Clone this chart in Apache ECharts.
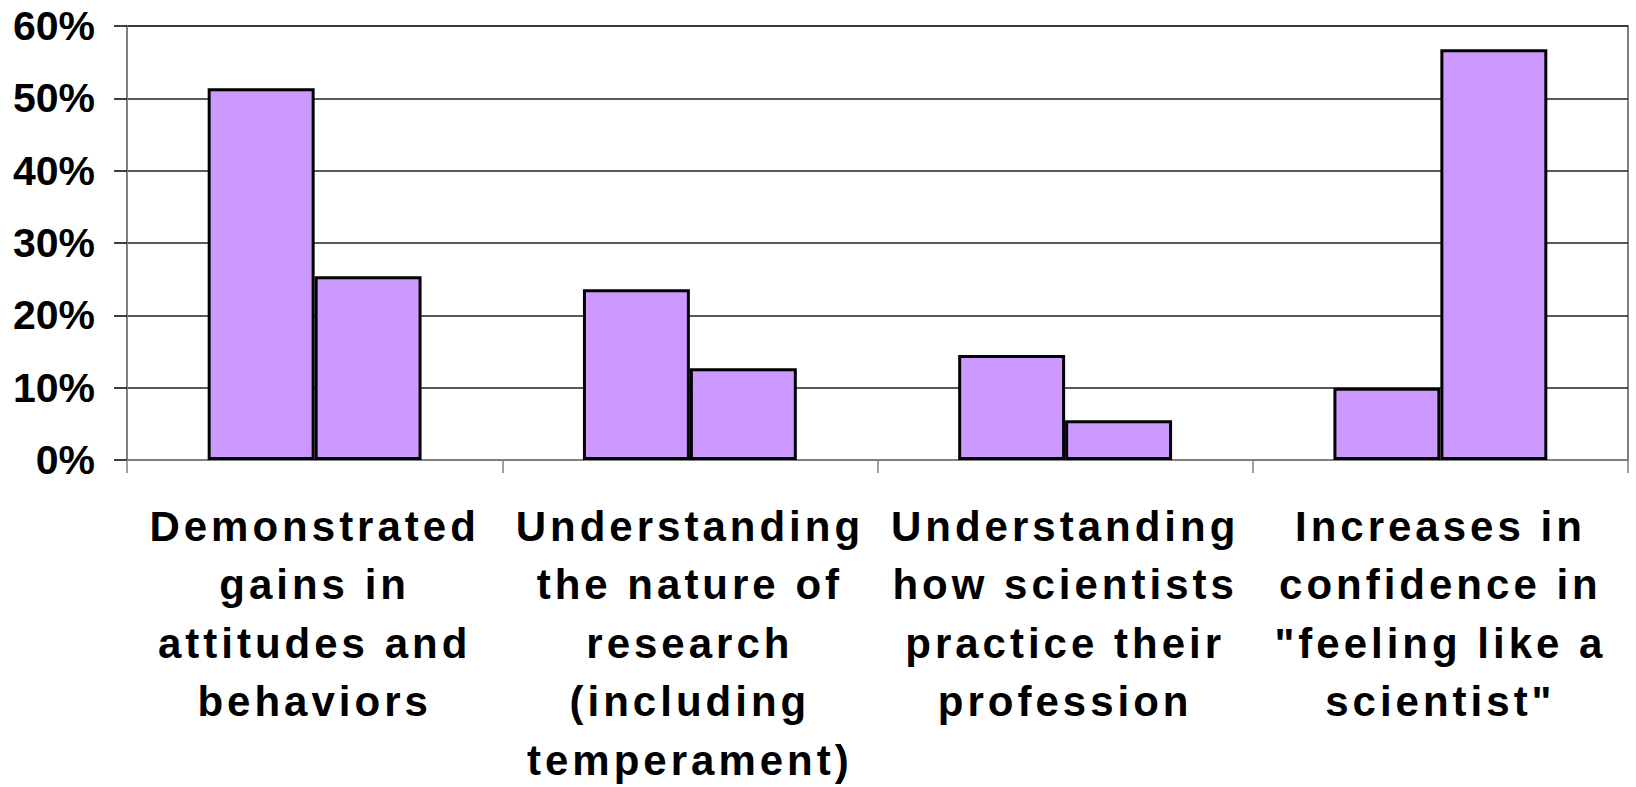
<!DOCTYPE html>
<html>
<head>
<meta charset="utf-8">
<script src="https://cdn.jsdelivr.net/npm/echarts@6/dist/echarts.min.js"></script>
<style>
  html, body { margin: 0; padding: 0; background: #fff; overflow: hidden; width: 1636px; height: 787px; }
  #chart { width: 1636px; height: 787px; overflow: hidden; }
  #chart svg { display: block; }
  /* category labels in the original are spaced out a bit */
  #chart text[text-anchor="middle"] { letter-spacing: 4px; }
</style>
</head>
<body>
<div id="chart"></div>
<script>
// categories on the x axis (line breaks as in the original)
const categories = [
  'Demonstrated\ngains in\nattitudes and\nbehaviors',
  'Understanding\nthe nature of\nresearch\n(including\ntemperament)',
  'Understanding\nhow scientists\npractice their\nprofession',
  'Increases in\nconfidence in\n"feeling like a\nscientist"'
]

// percent values
const series1Values = [51.4, 23.6, 14.5, 10.0]
const series2Values = [25.4, 12.7, 5.5, 56.8]

const yTicks = { min: 0, max: 60, interval: 10 }

const FONT = "'Liberation Sans', Arial, sans-serif"
const BAR_COLOR = '#CC99FF'
const AXIS_GREY = '#808080'

const chart = echarts.init(document.getElementById('chart'), null, { renderer: 'svg' })

const barStyle = {
  color: BAR_COLOR,
  borderColor: '#000',
  borderWidth: 3
}

chart.setOption({
  animation: false,
  grid: {
    left: 127,
    top: 26,
    width: 1501,
    height: 434,
    outerBoundsMode: 'none',
    show: true,
    backgroundColor: 'transparent',
    borderColor: AXIS_GREY,
    borderWidth: 2
  },
  xAxis: {
    type: 'category',
    data: categories,
    axisLine: { lineStyle: { color: AXIS_GREY, width: 2 } },
    axisTick: { show: true, length: 13, lineStyle: { color: AXIS_GREY, width: 1.5 } },
    axisLabel: {
      interval: 0,
      margin: 37,
      color: '#000',
      fontFamily: FONT,
      fontWeight: 'bold',
      fontSize: 42,
      lineHeight: 58.5,
      align: 'center'
    }
  },
  yAxis: {
    type: 'value',
    min: yTicks.min,
    max: yTicks.max,
    interval: yTicks.interval,
    axisLine: { show: true, lineStyle: { color: AXIS_GREY, width: 2 } },
    axisTick: { show: true, length: 13, lineStyle: { color: '#000', width: 1.5 } },
    splitLine: { lineStyle: { color: '#222', width: 1.5 } },
    axisLabel: {
      margin: 32,
      color: '#000',
      fontFamily: FONT,
      fontWeight: 'bold',
      fontSize: 41,
      formatter: '{value}%'
    }
  },
  series: [
    {
      name: 'Series 1',
      type: 'bar',
      data: series1Values,
      barGap: '0%',
      barCategoryGap: '43%',
      itemStyle: barStyle
    },
    {
      name: 'Series 2',
      type: 'bar',
      data: series2Values,
      barGap: '0%',
      barCategoryGap: '43%',
      itemStyle: barStyle
    }
  ]
})
</script>
</body>
</html>
